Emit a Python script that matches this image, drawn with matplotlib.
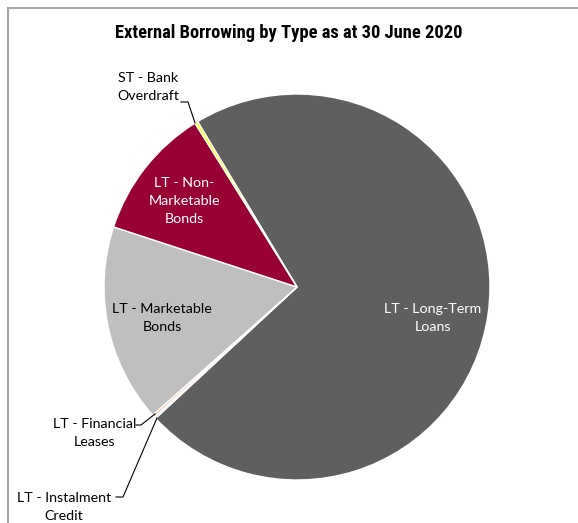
import matplotlib
matplotlib.use("Agg")
import matplotlib.pyplot as plt
from matplotlib.lines import Line2D
from matplotlib import font_manager
import numpy as np

categories = ["LT - Long-Term Loans", "LT - Instalment Credit", "LT - Financial Leases",
              "LT - Marketable Bonds", "LT - Non-Marketable Bonds", "ST - Bank Overdraft"]
values = [71.7, 0.15, 0.2, 16.6, 11.1, 0.25]
colors = ["#5f5f5f", "#9dc3e6", "#f4b183", "#bfbfbf", "#990033", "#ffff00"]
title = "External Borrowing by Type as at 30 June 2020"

W, H = 578, 523
fig = plt.figure(figsize=(W / 100, H / 100), dpi=100)
fig.patch.set_facecolor("white")

cx, cy, R = 297, 287, 193
ax = fig.add_axes([(cx - R) / W, (H - cy - R) / H, 2 * R / W, 2 * R / H])

def d(px, py):
    return ((px - cx) / R, (cy - py) / R)

ax.pie(values, colors=colors, startangle=121, counterclock=False,
       wedgeprops=dict(edgecolor="white", linewidth=1.0))
ax.set_xlim(-1, 1)
ax.set_ylim(-1, 1)
ax.set_aspect("equal")
ax.axis("off")

font = ["Lato", "DejaVu Sans"]
fs = 10.3
ls = 1.62

ax.text(*d(433, 318), "LT - Long-Term\nLoans", ha="center", va="center",
        fontsize=fs, color="white", family=font, linespacing=ls)
ax.text(*d(162, 318), "LT - Marketable\nBonds", ha="center", va="center",
        fontsize=fs, color="black", family=font, linespacing=ls)
ax.text(*d(184, 201), "LT - Non-\nMarketable\nBonds", ha="center", va="center",
        fontsize=fs, color="white", family=font, linespacing=ls)

ax.text(*d(148, 87), "ST - Bank\nOverdraft", ha="center", va="center",
        fontsize=fs, color="black", family=font, linespacing=ls)
ax.text(*d(95, 433), "LT - Financial\nLeases", ha="center", va="center",
        fontsize=fs, color="black", family=font, linespacing=ls)
ax.text(*d(64, 507), "LT - Instalment\nCredit", ha="center", va="center",
        fontsize=fs, color="black", family=font, linespacing=ls)

def leader(pts):
    xs, ys = zip(*[d(px, py) for px, py in pts])
    ax.add_line(Line2D(xs, ys, color="black", lw=0.8, clip_on=False))

leader([(181, 102), (188, 102), (195, 123)])
leader([(136, 425), (141, 425), (155, 414)])
leader([(116, 497), (123, 497), (157, 418)])

avail = {f.name for f in font_manager.fontManager.ttflist}
title_fam = None
for cand in ["Liberation Sans Narrow", "Roboto Condensed", "Open Sans Condensed",
             "DejaVu Sans Condensed", "Liberation Sans"]:
    if cand in avail:
        title_fam = cand
        break
tfs = 13.3 if "Narrow" in title_fam or "Condensed" in title_fam else 10.8
fig.text(0.5, 1 - 33 / H, title, ha="center", va="center", fontsize=tfs,
         fontweight="bold", family=[title_fam, "DejaVu Sans"])

fig.add_artist(Line2D([8 / W, 1], [1 - 8 / H, 1 - 8 / H], color="#a6a6a6", lw=1.5,
                      transform=fig.transFigure))
fig.add_artist(Line2D([8 / W, 8 / W], [0, 1 - 8 / H], color="#a6a6a6", lw=1.5,
                      transform=fig.transFigure))

fig.savefig("out.png", dpi=100, facecolor="white")
